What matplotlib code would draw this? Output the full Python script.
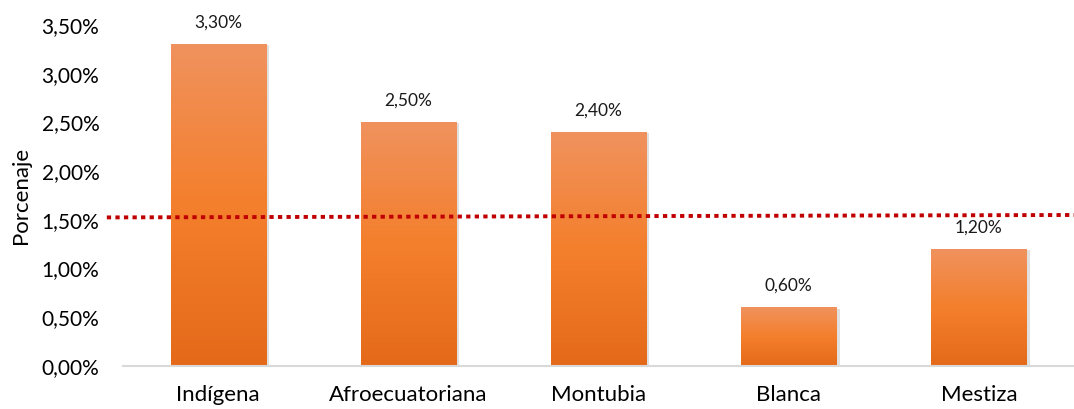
import matplotlib
matplotlib.use("Agg")
import matplotlib.pyplot as plt
import numpy as np
from matplotlib.colors import LinearSegmentedColormap
from matplotlib.patches import Rectangle

categories = ["Indígena", "Afroecuatoriana", "Montubia", "Blanca", "Mestiza"]
values = [3.30, 2.50, 2.40, 0.60, 1.20]
labels = ["3,30%", "2,50%", "2,40%", "0,60%", "1,20%"]
yticks = [0.0, 0.5, 1.0, 1.5, 2.0, 2.5, 3.0, 3.5]
yticklabels = ["0,00%", "0,50%", "1,00%", "1,50%", "2,00%", "2,50%", "3,00%", "3,50%"]
ref_line = [1.525, 1.55]

plt.rcParams['font.family'] = ['Lato', 'DejaVu Sans']

fig = plt.figure(figsize=(10.74, 4.09), dpi=100)
ax = fig.add_axes([123/1074, 43/409, 951/1074, 341/409])
ax.set_xlim(-0.5, 4.5)
ax.set_ylim(0, 3.5)

cmap = LinearSegmentedColormap.from_list("g", ["#E46A1A", "#F47F2C", "#F0925E"])
grad = np.linspace(0, 1, 256).reshape(-1, 1)
w = 0.5
x = np.arange(len(categories))
for xi, v, lab in zip(x, values, labels):
    ax.add_patch(Rectangle((xi - w/2 + 0.012, 0), w + 0.006, v - 0.01, color="#000000", alpha=0.12, lw=0, zorder=1))
    ax.imshow(grad, extent=(xi - w/2, xi + w/2, 0, v), origin="lower", cmap=cmap, aspect="auto", zorder=2)
    ax.text(xi, v + 0.14, lab, ha="center", va="bottom", fontsize=12.5, color="#1a1a1a")

ax.set_xlim(-0.5, 4.5)
ax.set_ylim(0, 3.5)

ax.plot([-0.585, 4.5], ref_line, linestyle=(0, (1.1, 1.1)), color="#C00000", lw=2.8, zorder=3, clip_on=False)

ax.set_xticks(x)
ax.set_xticklabels(categories, fontsize=16)
ax.set_yticks(yticks)
ax.set_yticklabels(yticklabels, fontsize=15)
ax.tick_params(length=0)
ax.tick_params(axis="x", pad=14)
ax.tick_params(axis="y", pad=17)
for s in ["top", "right", "left"]:
    ax.spines[s].set_visible(False)
ax.spines["bottom"].set_color("#D9D9D9")
ax.spines["bottom"].set_linewidth(1.5)
ax.set_ylabel("Porcenaje", fontsize=16, labelpad=8)

fig.savefig("out.png", dpi=100)
